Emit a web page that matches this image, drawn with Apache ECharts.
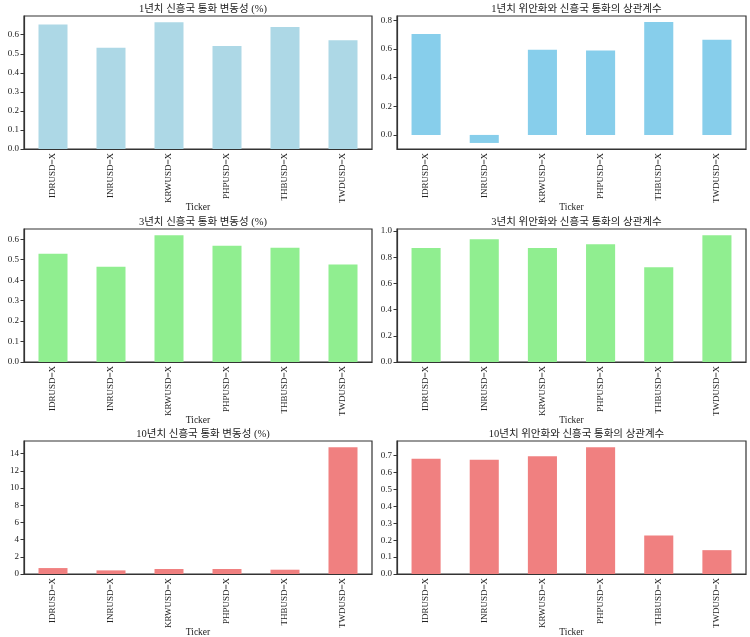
<!DOCTYPE html>
<html>
<head>
<meta charset="utf-8">
<script src="https://cdn.jsdelivr.net/npm/echarts@6/dist/echarts.min.js"></script>
<style>
  html, body { margin: 0; padding: 0; background: #fff; }
  #mainChart { width: 750px; height: 637px; }
</style>
</head>
<body>
<div id="mainChart"></div>
<script>
const tickers = ['IDRUSD=X', 'INRUSD=X', 'KRWUSD=X', 'PHPUSD=X', 'THBUSD=X', 'TWDUSD=X']

const titles = [
  '1년치 신흥국 통화 변동성 (%)', '1년치 위안화와 신흥국 통화의 상관계수',
  '3년치 신흥국 통화 변동성 (%)', '3년치 위안화와 신흥국 통화의 상관계수',
  '10년치 신흥국 통화 변동성 (%)', '10년치 위안화와 신흥국 통화의 상관계수'
]

const vol1y = [0.654, 0.532, 0.665, 0.541, 0.640, 0.571]
const corr1y = [0.704, -0.056, 0.594, 0.590, 0.788, 0.664]
const vol3y = [0.529, 0.465, 0.619, 0.568, 0.558, 0.477]
const corr3y = [0.871, 0.937, 0.871, 0.899, 0.724, 0.967]
const vol10y = [0.69, 0.42, 0.58, 0.58, 0.50, 14.73]
const corr10y = [0.682, 0.676, 0.696, 0.749, 0.227, 0.141]

const ticks1 = [0, 0.1, 0.2, 0.3, 0.4, 0.5, 0.6]
const ticks2 = [0, 0.2, 0.4, 0.6, 0.8]
const ticks3 = [0, 0.1, 0.2, 0.3, 0.4, 0.5, 0.6]
const ticks4 = [0, 0.2, 0.4, 0.6, 0.8, 1.0]
const ticks5 = [0, 2, 4, 6, 8, 10, 12, 14]
const ticks6 = [0, 0.1, 0.2, 0.3, 0.4, 0.5, 0.6, 0.7]

const panels = [
  { data: vol1y, ticks: ticks1, digits: 1, color: '#ADD8E6' },
  { data: corr1y, ticks: ticks2, digits: 1, color: '#87CEEB' },
  { data: vol3y, ticks: ticks3, digits: 1, color: '#90EE90' },
  { data: corr3y, ticks: ticks4, digits: 1, color: '#90EE90' },
  { data: vol10y, ticks: ticks5, digits: 0, color: '#F08080' },
  { data: corr10y, ticks: ticks6, digits: 1, color: '#F08080' }
]

const font = "'Liberation Serif', 'DejaVu Serif', 'Noto Sans CJK KR', serif"
const lefts = [24, 397]
const widths = [348, 349]
const tops = [16, 229, 441]
const gridHeight = 133

const chart = echarts.init(document.getElementById('mainChart'))

const grid = [], xAxis = [], yAxis = [], series = [], title = []

panels.forEach((p, i) => {
  const col = i % 2
  const row = Math.floor(i / 2)
  const lo = Math.min(0, ...p.data)
  const hi = Math.max(0, ...p.data)
  const span = hi - lo

  grid.push({
    left: lefts[col],
    top: tops[row],
    width: widths[col],
    height: gridHeight,
    outerBoundsMode: 'none',
    containLabel: false,
    show: true,
    borderColor: '#333',
    borderWidth: 1.2,
    backgroundColor: '#fff'
  })

  title.push({
    text: titles[i],
    left: lefts[col] + widths[col] / 2,
    top: tops[row] - 17,
    textAlign: 'center',
    textStyle: { fontFamily: font, fontSize: 10.5, fontWeight: 'normal', color: '#222' }
  })

  xAxis.push({
    type: 'category',
    gridIndex: i,
    data: tickers,
    name: 'Ticker',
    nameLocation: 'middle',
    nameGap: 54,
    nameMoveOverlap: false,
    nameTextStyle: { fontFamily: font, fontSize: 9.5, color: '#222' },
    axisLine: { onZero: false, lineStyle: { color: '#333', width: 1.2 } },
    axisTick: { alignWithLabel: true, length: 3.5, lineStyle: { color: '#333' } },
    axisLabel: { rotate: 90, margin: 4, fontFamily: font, fontSize: 9, color: '#222' }
  })

  yAxis.push({
    type: 'value',
    gridIndex: i,
    min: lo < 0 ? lo - 0.05 * span : 0,
    max: hi + 0.05 * span,
    splitLine: { show: false },
    axisLine: { show: true, lineStyle: { color: '#333', width: 1.2 } },
    axisTick: { show: true, length: 3.5, customValues: p.ticks, lineStyle: { color: '#333' } },
    axisLabel: {
      customValues: p.ticks,
      margin: 5,
      fontFamily: font,
      fontSize: 9,
      color: '#222',
      formatter: v => v.toFixed(p.digits)
    }
  })

  series.push({
    type: 'bar',
    xAxisIndex: i,
    yAxisIndex: i,
    data: p.data,
    barWidth: '50%',
    itemStyle: { color: p.color }
  })
})

chart.setOption({
  animation: false,
  title: title,
  grid: grid,
  xAxis: xAxis,
  yAxis: yAxis,
  series: series
})
</script>
</body>
</html>
